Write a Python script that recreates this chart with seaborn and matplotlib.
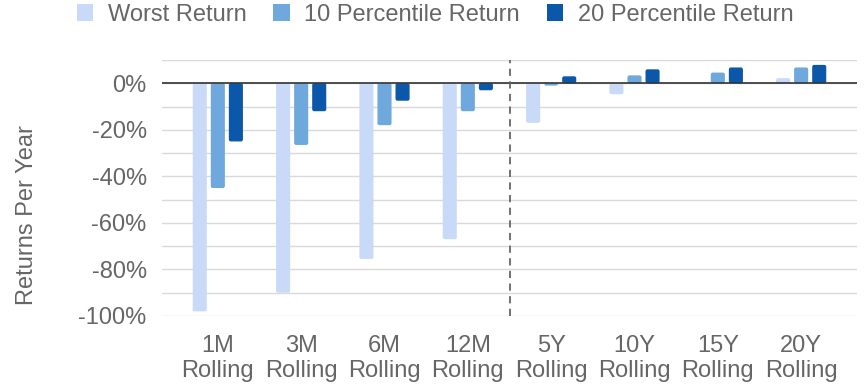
import matplotlib
matplotlib.use("Agg")
import matplotlib.pyplot as plt
from matplotlib.patches import FancyBboxPatch, Rectangle
from matplotlib.ticker import MultipleLocator, FuncFormatter
import seaborn as sns
import pandas as pd

# Rolling-window return statistics (% per year)
categories = ["1M\nRolling", "3M\nRolling", "6M\nRolling", "12M\nRolling",
              "5Y\nRolling", "10Y\nRolling", "15Y\nRolling", "20Y\nRolling"]
series_names = ["Worst Return", "10 Percentile Return", "20 Percentile Return"]
worst_return = [-98, -90, -75.5, -67, -17, -4.7, -0.3, 2.2]
pct10_return = [-45, -26.5, -18, -12, -1, 3.4, 4.6, 6.8]
pct20_return = [-25, -12, -7.5, -3, 3, 6, 6.8, 7.9]

colors = ["#c9daf8", "#6fa8dc", "#0b57aa"]
text_color = "#666666"
fs = 17

df = pd.DataFrame({
    "period": categories * 3,
    "series": [s for s in series_names for _ in categories],
    "value": worst_return + pct10_return + pct20_return,
})

sns.set_theme(style="white")
plt.rcParams["font.family"] = ["Liberation Sans", "DejaVu Sans"]

fig = plt.figure(figsize=(8.65, 3.87), dpi=100)
ax = fig.add_axes([162 / 865, 1 - 316 / 387, (857 - 162) / 865, (316 - 60) / 387])

sns.barplot(data=df, x="period", y="value", hue="series", order=categories,
            hue_order=series_names, palette=colors, width=0.65, gap=0.22,
            saturation=1, errorbar=None, legend=False, ax=ax, zorder=3)

# Soften the bar corners
x_px_per_unit = (857 - 162) / (7.67 + 0.67)
y_px_per_unit = (316 - 60) / 110
r_px = 2.0
for patch in list(ax.patches):
    if not isinstance(patch, Rectangle):
        continue
    x, y = patch.get_x(), patch.get_y()
    w, h = patch.get_width(), patch.get_height()
    fb = FancyBboxPatch((x, min(y, y + h)), w, abs(h),
                        boxstyle=f"round,pad=0,rounding_size={r_px / x_px_per_unit}",
                        mutation_aspect=x_px_per_unit / y_px_per_unit,
                        facecolor=patch.get_facecolor(), edgecolor="none", zorder=3)
    patch.remove()
    ax.add_patch(fb)

ax.set_xlim(-0.67, 7.67)
ax.set_ylim(-100, 10)
ax.yaxis.set_major_locator(MultipleLocator(20))
ax.yaxis.set_minor_locator(MultipleLocator(10))
ax.yaxis.set_major_formatter(FuncFormatter(lambda v, _: f"{v:.0f}%"))
ax.grid(axis="y", which="both", color="#d9d9d9", linewidth=1.0, zorder=0)
ax.axhline(0, color="#333333", linewidth=1.2, zorder=4)
ax.axvline(3.5, color="#666666", linewidth=1.3, linestyle=(0, (4, 3)), zorder=4)

for s in ax.spines.values():
    s.set_visible(False)

ax.tick_params(axis="both", which="both", length=0, labelsize=fs, colors=text_color)
ax.tick_params(axis="y", pad=11)
ax.tick_params(axis="x", pad=14)
for lbl in ax.get_xticklabels():
    lbl.set_linespacing(1.17)

ax.set_xlabel("")
ax.set_ylabel("Returns Per Year", fontsize=fs, color=text_color)
ax.yaxis.set_label_coords(-0.178, 0.395)

handles = [Rectangle((0, 0), 1, 1, facecolor=c, edgecolor="none") for c in colors]
fig.legend(handles, series_names, loc="center", bbox_to_anchor=(0.503, 0.962),
           ncol=3, frameon=False, fontsize=fs, labelcolor=text_color,
           handlelength=0.7, handleheight=0.7, handletextpad=0.6, columnspacing=1.15)

fig.savefig("out.png", dpi=100)
